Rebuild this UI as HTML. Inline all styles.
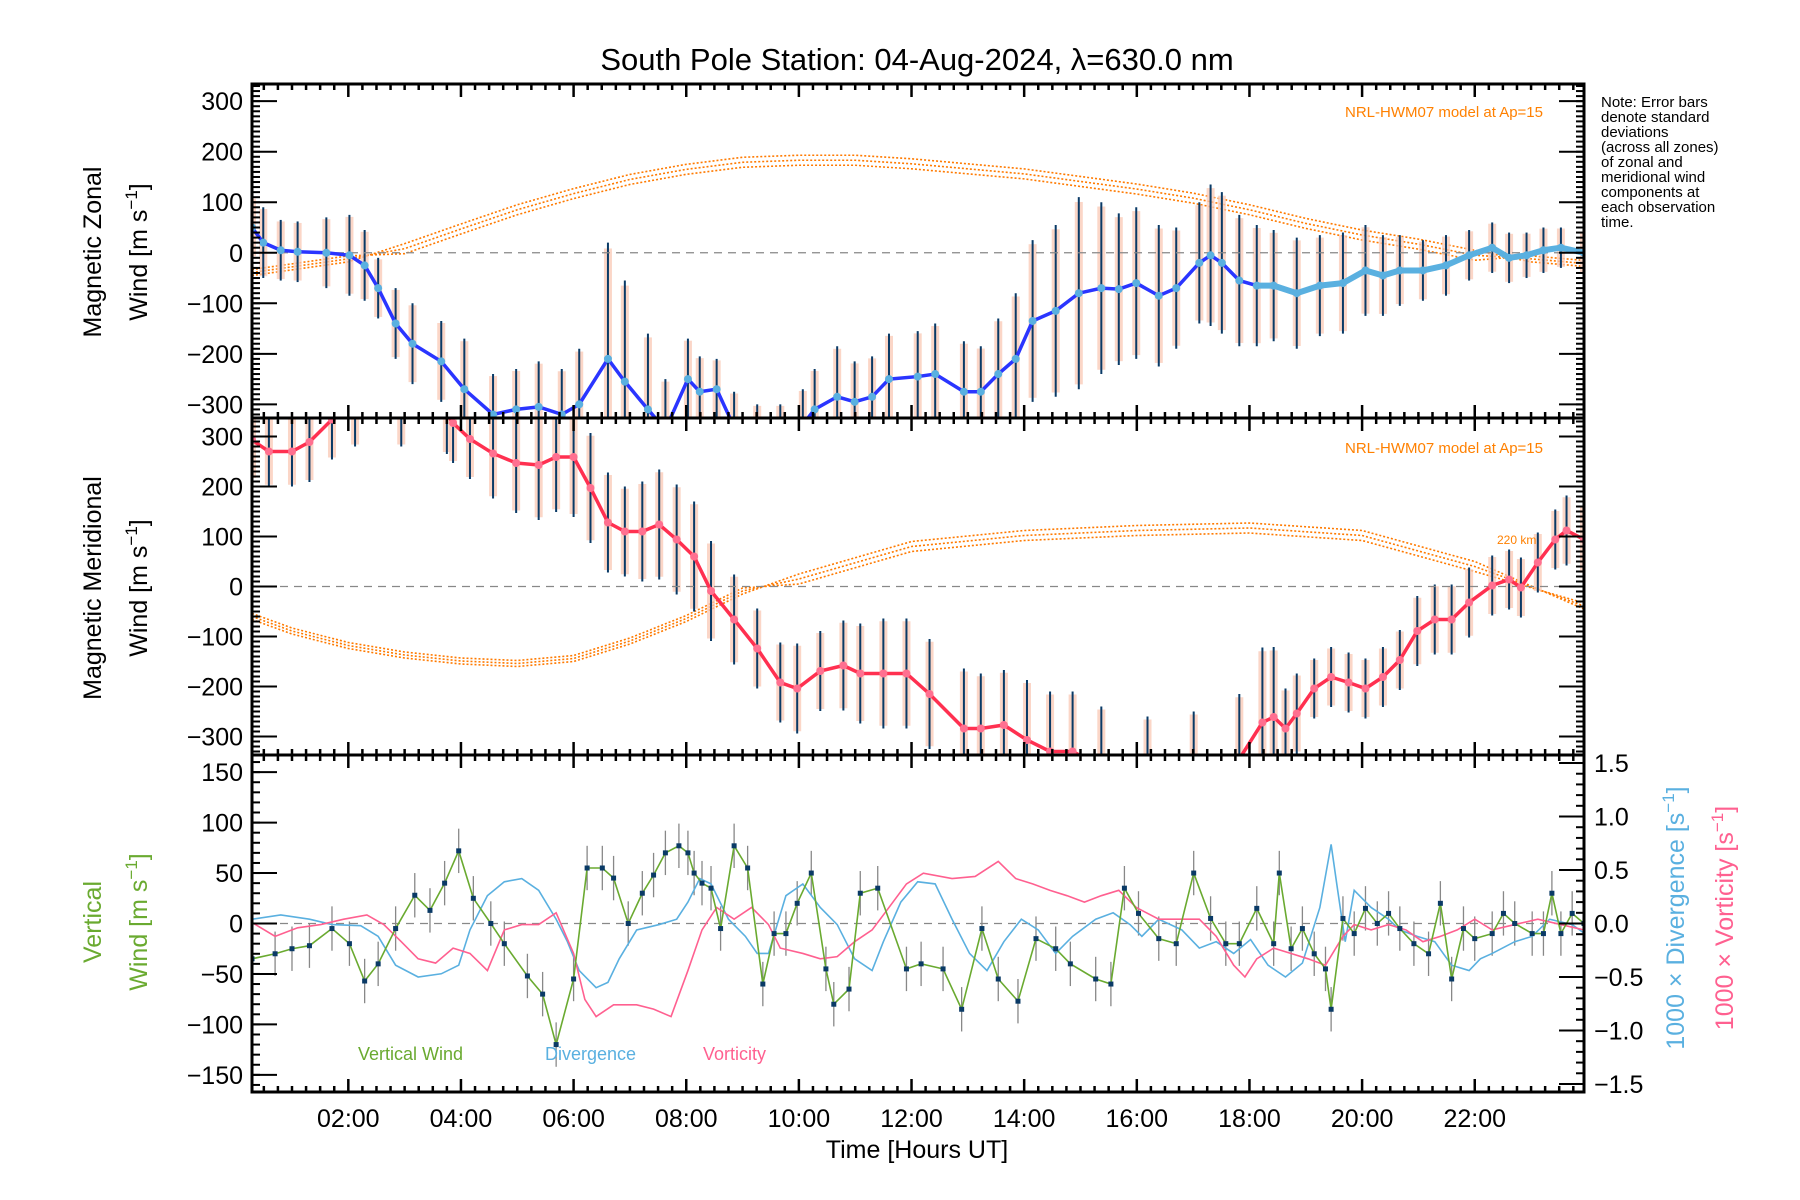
<!DOCTYPE html>
<html><head><meta charset="utf-8"><style>
html,body{margin:0;padding:0;background:#fff}
svg{display:block;font-family:"Liberation Sans",sans-serif}
</style></head><body>
<svg id="chart" width="1800" height="1200" viewBox="0 0 1800 1200" xmlns="http://www.w3.org/2000/svg">
<defs>
<clipPath id="c1"><rect x="252" y="84" width="1332" height="334"/></clipPath>
<clipPath id="c2"><rect x="252" y="418" width="1332" height="337"/></clipPath>
<clipPath id="c3"><rect x="252" y="755" width="1332" height="337"/></clipPath>
</defs>
<text x="917" y="70" font-size="31" text-anchor="middle">South Pole Station: 04-Aug-2024, λ=630.0 nm</text>
<g id="layer"></g>
<g font-size="15">
<text x="1601" y="107">Note: Error bars</text><text x="1601" y="122">denote standard</text><text x="1601" y="137">deviations</text><text x="1601" y="152">(across all zones)</text><text x="1601" y="167">of zonal and</text><text x="1601" y="182">meridional wind</text><text x="1601" y="197">components at</text><text x="1601" y="212">each observation</text><text x="1601" y="227">time.</text>
</g>
<text x="1543" y="117" font-size="15" fill="#ff8000" text-anchor="end">NRL-HWM07 model at Ap=15</text>
<text x="1543" y="453" font-size="15" fill="#ff8000" text-anchor="end">NRL-HWM07 model at Ap=15</text>
<text x="1497" y="544" font-size="12" fill="#ff8000">220 km</text>
<g font-size="25" text-anchor="middle">
<text transform="translate(101,252) rotate(-90)">Magnetic Zonal</text>
<text transform="translate(147,252) rotate(-90)">Wind [m s<tspan dy="-10" font-size="17">−1</tspan><tspan dy="10">]</tspan></text>
<text transform="translate(101,588) rotate(-90)">Magnetic Meridional</text>
<text transform="translate(147,588) rotate(-90)">Wind [m s<tspan dy="-10" font-size="17">−1</tspan><tspan dy="10">]</tspan></text>
<text transform="translate(101,922) rotate(-90)" fill="#6aaa30">Vertical</text>
<text transform="translate(147,922) rotate(-90)" fill="#6aaa30">Wind [m s<tspan dy="-10" font-size="17">−1</tspan><tspan dy="10">]</tspan></text>
<text transform="translate(1684,918) rotate(-90)" fill="#5ab0e0">1000 × Divergence [s<tspan dy="-10" font-size="17">−1</tspan><tspan dy="10">]</tspan></text>
<text transform="translate(1733,918) rotate(-90)" fill="#ff6090">1000 × Vorticity [s<tspan dy="-10" font-size="17">−1</tspan><tspan dy="10">]</tspan></text>
</g>
<text x="917" y="1158" font-size="25" text-anchor="middle">Time [Hours UT]</text>
<g font-size="18">
<text x="358" y="1060" fill="#6aaa30">Vertical Wind</text>
<text x="545" y="1060" fill="#5ab0e0">Divergence</text>
<text x="703" y="1060" fill="#ff6090">Vorticity</text>
</g>
</svg>
<script>
// ---- data ----
const zonalHours=[0.29,0.49,0.80,1.10,1.61,2.02,2.29,2.53,2.84,3.14,3.65,4.06,4.57,4.98,5.38,5.79,6.10,6.61,6.91,7.32,7.63,8.03,8.24,8.54,8.85,9.26,9.67,10.07,10.28,10.68,10.99,11.30,11.60,12.11,12.42,12.93,13.23,13.54,13.85,14.15,14.56,14.97,15.37,15.68,15.99,16.39,16.70,17.11,17.31,17.51,17.82,18.13,18.43,18.84,19.25,19.66,20.06,20.37,20.67,21.08,21.49,21.90,22.31,22.61,22.92,23.22,23.53,23.94];
const zonalWind=[50,20,5,2,0,-5,-25,-70,-140,-180,-215,-270,-320,-310,-305,-320,-300,-210,-255,-310,-350,-250,-275,-270,-345,-360,-360,-340,-310,-285,-295,-285,-250,-245,-240,-275,-275,-240,-210,-135,-115,-80,-70,-72,-60,-85,-70,-20,-5,-20,-55,-65,-65,-80,-65,-60,-35,-45,-35,-35,-25,-5,10,-10,-5,5,10,0];
const zonalSd=[60,70,60,60,70,80,70,60,70,80,80,100,80,80,90,90,110,230,200,150,100,80,70,60,70,60,60,70,80,100,80,80,90,90,100,100,90,110,130,160,170,190,170,150,150,140,120,120,140,140,130,120,110,110,100,100,90,80,70,60,60,50,50,50,45,45,40,40];
const merHours=[0.29,0.59,1.00,1.31,1.71,2.12,2.94,3.75,3.86,4.16,4.57,4.98,5.38,5.69,6.00,6.30,6.61,6.91,7.22,7.52,7.83,8.14,8.44,8.85,9.26,9.67,9.97,10.38,10.79,11.09,11.50,11.91,12.32,12.93,13.23,13.64,14.05,14.46,14.86,15.37,16.19,17.01,17.82,18.23,18.43,18.64,18.84,19.15,19.45,19.76,20.06,20.37,20.67,20.98,21.29,21.59,21.90,22.31,22.61,22.82,23.12,23.43,23.63,23.94];
const merWind=[293,270,270,289,334,360,360,345,327,295,266,247,243,259,259,197,128,110,110,124,94,60,-9,-66,-124,-192,-204,-169,-158,-174,-174,-174,-215,-284,-284,-277,-307,-330,-330,-360,-380,-370,-345,-272,-261,-284,-254,-204,-181,-192,-204,-181,-147,-89,-66,-66,-32,2,14,-2,48,94,112,94];
const merSd=[80,70,70,80,80,80,80,80,80,80,90,100,110,110,120,110,100,90,100,110,110,110,100,90,80,80,90,80,90,100,110,110,110,120,110,110,120,120,120,120,120,120,130,150,140,80,80,60,60,60,60,60,60,70,70,70,70,60,60,60,60,60,70,70];
const zonalModelHours=[0.29,2,3,4,5,6,7,8,9,10,11,12,14,16,17,18,19,20,21,22,23,23.94];
const zonalModel=[-45,-18,18,57,95,127,155,175,189,193,193,186,166,136,118,95,68,45,27,5,-18,-27];
const merModelHours=[0.29,1,2,3,4,5,6,7,8,9,10,12,14,16,18,20,22,23.94];
const merModel=[-66,-95,-124,-143,-155,-160,-150,-115,-70,-15,25,90,112,122,127,112,50,-45];
const vwHours=[0.29,0.70,1.00,1.31,1.71,2.02,2.29,2.53,2.84,3.18,3.45,3.71,3.96,4.22,4.53,4.77,5.18,5.45,5.69,6.00,6.24,6.51,6.71,6.97,7.22,7.42,7.63,7.87,8.03,8.14,8.28,8.44,8.61,8.85,9.09,9.36,9.56,9.77,9.97,10.22,10.48,10.62,10.89,11.09,11.40,11.91,12.17,12.56,12.89,13.25,13.54,13.89,14.21,14.56,14.82,15.27,15.54,15.78,16.03,16.39,16.70,17.01,17.31,17.58,17.82,18.13,18.43,18.53,18.74,18.94,19.15,19.35,19.45,19.66,19.86,20.06,20.27,20.47,20.67,20.92,21.18,21.39,21.59,21.80,22.00,22.31,22.51,22.71,23.02,23.22,23.37,23.53,23.73,23.94];
const vwWind=[-35,-30,-25,-22,-5,-20,-57,-40,-5,28,13,40,72,25,0,-20,-52,-70,-120,-55,55,55,45,0,30,48,70,77,70,50,40,35,-5,77,55,-60,-10,-10,20,50,-45,-80,-65,30,35,-45,-40,-45,-85,-5,-55,-77,-15,-25,-40,-55,-60,35,10,-15,-20,50,5,-20,-20,15,-20,50,-25,-5,-30,-45,-85,5,-10,15,0,10,-5,-20,-30,20,-55,-5,-15,-10,10,0,-10,-10,30,-10,10,0];
const divHours=[0.29,0.80,1.31,1.71,2.22,2.53,2.84,3.24,3.65,3.96,4.16,4.47,4.77,5.08,5.38,5.69,5.89,6.10,6.40,6.61,6.81,7.12,7.52,7.83,8.03,8.24,8.44,8.75,9.05,9.26,9.46,9.77,10.07,10.38,10.68,10.99,11.30,11.50,11.81,12.11,12.42,12.72,13.03,13.34,13.64,13.95,14.25,14.56,14.86,15.27,15.58,15.88,16.09,16.39,16.80,17.11,17.41,17.72,18.02,18.33,18.64,18.94,19.25,19.45,19.55,19.70,19.86,20.16,20.47,20.67,20.98,21.29,21.59,21.90,22.10,22.31,22.71,23.02,23.33,23.73,23.94];
const divergence=[.04,.08,.04,-.01,-.02,-.12,-.39,-.5,-.47,-.39,-.06,.26,.39,.42,.31,.04,-.17,-.44,-.6,-.55,-.33,-.06,-.01,.04,.2,.42,.37,.04,-.12,-.28,-.28,.26,.37,.15,-.01,-.33,-.44,-.17,.2,.39,.37,.04,-.28,-.44,-.17,.04,-.06,-.28,-.12,.04,.1,-.01,-.12,.04,-.06,-.23,-.17,-.28,-.15,-.39,-.5,-.37,.15,.74,.37,-.17,.31,.15,.04,-.06,-.12,-.17,-.39,-.44,-.33,-.28,-.17,-.12,.04,-.01,-.09];
const vorHours=[0.29,0.70,1.10,1.51,1.92,2.33,2.63,2.94,3.24,3.55,3.86,4.16,4.47,4.77,5.08,5.38,5.69,6.00,6.20,6.40,6.71,7.12,7.42,7.73,8.03,8.28,8.54,8.85,9.16,9.46,9.67,10.07,10.38,10.68,10.99,11.30,11.60,11.91,12.21,12.72,13.13,13.54,13.85,14.15,14.46,14.76,15.07,15.37,15.68,15.99,16.39,16.70,17.11,17.41,17.72,17.92,18.13,18.43,18.74,19.04,19.35,19.66,19.86,20.16,20.47,20.78,21.08,21.39,21.69,22.00,22.31,22.71,23.12,23.53,23.94];
const vorticity=[.01,-.12,-.04,-.01,.04,.08,-.01,-.17,-.33,-.37,-.23,-.28,-.44,-.06,-.01,-.01,.1,-.28,-.71,-.87,-.76,-.76,-.8,-.87,-.44,-.06,.15,.04,.15,-.01,-.23,-.28,-.33,-.31,-.17,-.06,.15,.37,.47,.42,.44,.58,.42,.37,.31,.26,.2,.26,.31,.15,.04,.04,.04,-.12,-.39,-.5,-.33,-.23,-.28,-.33,-.39,-.12,-.01,-.06,-.01,-.06,-.17,-.12,-.06,.04,-.06,-.01,.04,-.01,-.06];
const xTickLabels=["02:00","04:00","06:00","08:00","10:00","12:00","14:00","16:00","18:00","20:00","22:00"];
const windTicks=[-300,-200,-100,0,100,200,300];
const vwTicks=[-150,-100,-50,0,50,100,150];
const rightTicks=["-1.5","-1.0","-0.5","0.0","0.5","1.0","1.5"];

// ---- scales ----
const X0=252,X1=1584,T0=0.29,T1=23.94;
const x=t=>X0+(t-T0)*(X1-X0)/(T1-T0);
const P1={top:84,bot:418,min:-327,max:334};
const P2={top:418,bot:755,min:-337,max:337};
const P3={top:755,bot:1092,min:-167,max:167};
const P3R={top:755,bot:1092,min:-1.575,max:1.575};
const yOf=(p,v)=>p.bot-(v-p.min)*(p.bot-p.top)/(p.max-p.min);
const NS="http://www.w3.org/2000/svg";
const layer=document.getElementById('layer');
function mk(tag,attrs,parent){const e=document.createElementNS(NS,tag);for(const k in attrs)e.setAttribute(k,attrs[k]);(parent||layer).appendChild(e);return e;}
const minus=s=>String(s).replace('-','−');

function panelSeries(p,clip,hours,vals,sd,lineColor,lateColor,markColor,name,lateFrom){
  const g=mk('g',{'clip-path':'url(#'+clip+')'});
  
  
  hours.forEach((t,i)=>{
    const cx=x(t);
    const r=mk('rect',{x:cx-4,y:yOf(p,vals[i]+sd[i]*0.95),width:8,height:Math.abs(yOf(p,vals[i]-sd[i]*0.95)-yOf(p,vals[i]+sd[i]*0.95)),fill:'#f9c8b4',opacity:0.75},g);
    
    
    const b=mk('line',{x1:cx,x2:cx,y1:yOf(p,vals[i]+sd[i]),y2:yOf(p,vals[i]-sd[i]),stroke:'#0a3a66','stroke-width':2},g);
    
    
  });
  const z=mk('line',{x1:X0,x2:X1,y1:yOf(p,0),y2:yOf(p,0),stroke:'#888','stroke-dasharray':'8 6','stroke-width':1.3},g);
  
  
  const pts=hours.map((t,i)=>x(t)+','+yOf(p,vals[i])).join(' ');
  const pl=mk('polyline',{points:pts,fill:'none',stroke:lineColor,'stroke-width':3.5},g);
  
  
  if(lateFrom!==undefined){
    const lp=hours.map((t,i)=>[t,vals[i]]).filter(d=>d[0]>=lateFrom).map(d=>x(d[0])+','+yOf(p,d[1])).join(' ');
    const l2=mk('polyline',{points:lp,fill:'none',stroke:lateColor,'stroke-width':6},g);
    
    
  }
  hours.forEach((t,i)=>{
    const m=mk('circle',{cx:x(t),cy:yOf(p,vals[i]),r:4,fill:markColor},g);
    
    
  });
  return g;
}
function modelCurves(p,clip,hours,vals,name){
  const g=mk('g',{'clip-path':'url(#'+clip+')'});
  
  
  [0,5,10].forEach(off=>{
    const pts=hours.map((t,i)=>x(t)+','+(yOf(p,vals[i])+off*(vals[i]>0?1:-0.6))).join(' ');
    const pl=mk('polyline',{points:pts,fill:'none',stroke:'#ff7a00','stroke-width':1.6,'stroke-dasharray':'2 2'},g);
    
    
  });
}
modelCurves(P1,'c1',zonalModelHours,zonalModel,'zonal-model');
panelSeries(P1,'c1',zonalHours,zonalWind,zonalSd,'#2a35ff','#5ab0e0','#5ab0e0','zonal',17.9);
modelCurves(P2,'c2',merModelHours,merModel,'meridional-model');
panelSeries(P2,'c2',merHours,merWind,merSd,'#ff3050','#ff3050','#ff7090','meridional');

// panel 3
const g3=mk('g',{'clip-path':'url(#c3)'});


const z3=mk('line',{x1:X0,x2:X1,y1:yOf(P3,0),y2:yOf(P3,0),stroke:'#888','stroke-dasharray':'8 6','stroke-width':1.3},g3);


vwHours.forEach((t,i)=>{
  const e=mk('line',{x1:x(t),x2:x(t),y1:yOf(P3,vwWind[i]+22),y2:yOf(P3,vwWind[i]-22),stroke:'#888','stroke-width':1.3},g3);
  
  
});
const dl=mk('polyline',{points:divHours.map((t,i)=>x(t)+','+yOf(P3R,divergence[i])).join(' '),fill:'none',stroke:'#5ab0e0','stroke-width':1.6},g3);


const vl=mk('polyline',{points:vorHours.map((t,i)=>x(t)+','+yOf(P3R,vorticity[i])).join(' '),fill:'none',stroke:'#ff6090','stroke-width':1.6},g3);


const wl=mk('polyline',{points:vwHours.map((t,i)=>x(t)+','+yOf(P3,vwWind[i])).join(' '),fill:'none',stroke:'#6aaa30','stroke-width':1.6},g3);


vwHours.forEach((t,i)=>{
  const m=mk('rect',{x:x(t)-2.5,y:yOf(P3,vwWind[i])-2.5,width:5,height:5,fill:'#0a3a66'},g3);
  
  
});

// axes
function frame(p,name){
  const r=mk('rect',{x:X0,y:p.top,width:X1-X0,height:p.bot-p.top,fill:'none',stroke:'#000','stroke-width':3});
  
  
  for(let m=0;m<=Math.round((T1-T0)*4)+2;m++){
    const t=Math.ceil(T0*4)/4+m*0.25; if(t>T1)break;
    const major=Math.abs(t%2)<1e-6;
    const L=major?13:6;
    mk('line',{x1:x(t),x2:x(t),y1:p.bot,y2:p.bot-L,stroke:'#000','stroke-width':2.5});
    mk('line',{x1:x(t),x2:x(t),y1:p.top,y2:p.top+L,stroke:'#000','stroke-width':2.5});
  }
}
function yTicks(p,labels,minorStep,side,fmt){
  const xs=side==='left'?X0:X1, dir=side==='left'?1:-1;
  for(let v=Math.ceil(p.min/minorStep)*minorStep;v<=p.max;v+=minorStep){
    mk('line',{x1:xs,x2:xs+dir*8,y1:yOf(p,v),y2:yOf(p,v),stroke:'#000','stroke-width':2});
  }
  labels.forEach(l=>{
    const v=parseFloat(l), yy=yOf(p,v);
    mk('line',{x1:xs,x2:xs+dir*25,y1:yy,y2:yy,stroke:'#000','stroke-width':2});
    if(fmt){
      const tx=mk('text',{x:side==='left'?243:1594,y:yy+9,'font-size':25,'text-anchor':side==='left'?'end':'start'});
      tx.textContent=minus(l);
      
      
    }
  });
}
frame(P1,'zonal-panel');frame(P2,'meridional-panel');frame(P3,'vertical-panel');
yTicks(P1,windTicks,10,'left',true);yTicks(P1,windTicks,10,'right',false);
yTicks(P2,windTicks,10,'left',true);yTicks(P2,windTicks,10,'right',false);
yTicks(P3,vwTicks,10,'left',true);
yTicks(P3R,rightTicks,0.1,'right',true);
xTickLabels.forEach(l=>{
  const t=parseInt(l,10);
  const tx=mk('text',{x:x(t),y:1127,'font-size':25,'text-anchor':'middle'});
  tx.textContent=l;
  
  
});
</script>
</body></html>
